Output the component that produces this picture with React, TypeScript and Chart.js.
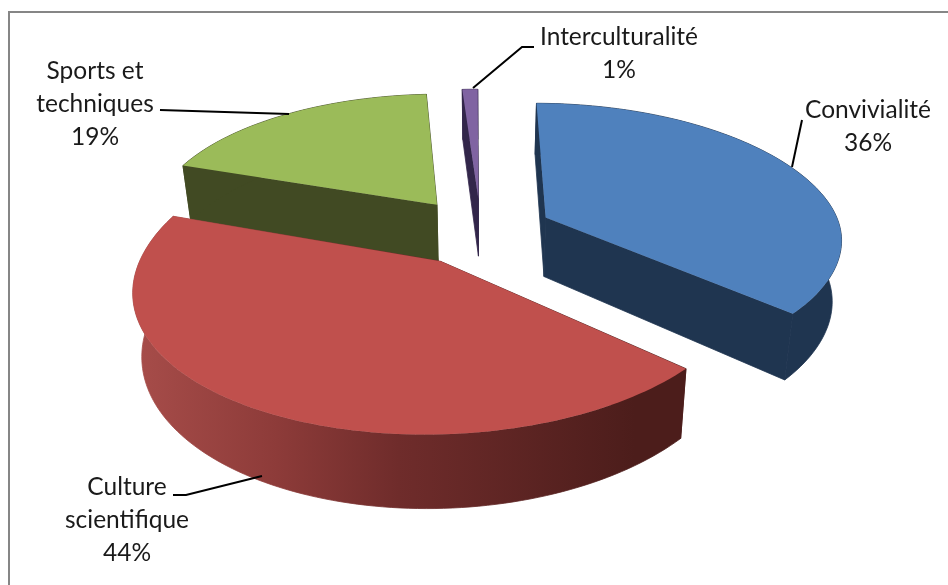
import React, { useEffect, useRef } from "react";
import { Chart, registerables } from "chart.js";

Chart.register(...registerables);

const categories = ["Convivialité", "Culture scientifique", "Sports et techniques", "Interculturalité"];
const values = [36, 44, 19, 1];
const topColors = ["#4f81bd", "#c0504d", "#9bbb59", "#8064a2"];
const wallColors = ["#1f3550", "#4c1d1b", "#414a23", "#32264a"];
const labelLines = [
  ["Convivialité", "36%"],
  ["Culture", "scientifique", "44%"],
  ["Sports et", "techniques", "19%"],
  ["Interculturalité", "1%"],
];

const VIEW = { cx: 482, cy: 231, A: 293, B: 135.5, S: -19, T: -5, k: 0.157, D: 60, shrink: 0.026 };
const LABEL_POS = [
  { x: 868, y: 110 },
  { x: 127, y: 487 },
  { x: 95, y: 71 },
  { x: 619, y: 37 },
];
const LEADERS = [
  [[792, 167], [802, 120]],
  [[262, 476], [186, 495], [173, 495]],
  [[289, 114], [160, 110]],
  [[473, 88], [522, 47], [534, 47]],
];
const LINE_H = 33;

function project(X: number, Y: number, z: number) {
  const { cx, cy, A, B, S, T, k, D, shrink } = VIEW;
  const w = 1 + k * Y;
  const f = 1 - shrink * z;
  const lean = (Y + Math.sqrt(Y * Y + 0.06)) / 2;
  return {
    x: cx + ((A * X + S * lean) / w) * f,
    y: cy + T * X - (B * Y) / w + (z * D) / w,
  };
}

function slicePoints(el: any) {
  const off = el.options.offset / el.outerRadius;
  const mid = (el.startAngle + el.endAngle) / 2;
  const ox = Math.cos(mid) * off;
  const oy = -Math.sin(mid) * off;
  const steps = Math.max(4, Math.ceil((el.endAngle - el.startAngle) * 40));
  const rim: [number, number][] = [];
  for (let i = 0; i <= steps; i++) {
    const t = el.startAngle + ((el.endAngle - el.startAngle) * i) / steps;
    rim.push([ox + Math.cos(t), oy - Math.sin(t)]);
  }
  return { apex: [ox, oy] as [number, number], rim };
}

function fillPoly(ctx: CanvasRenderingContext2D, pts: { x: number; y: number }[], fill: any, seal = false) {
  ctx.beginPath();
  pts.forEach((p, i) => (i ? ctx.lineTo(p.x, p.y) : ctx.moveTo(p.x, p.y)));
  ctx.closePath();
  ctx.fillStyle = fill;
  ctx.fill();
  if (seal) {
    ctx.strokeStyle = fill;
    ctx.lineWidth = 0.8;
    ctx.stroke();
  }
}

const pie3d = {
  id: "pie3d",
  beforeDraw(chart: any) {
    const ctx = chart.ctx;
    ctx.save();
    ctx.fillStyle = "#ffffff";
    ctx.fillRect(0, 0, chart.width, chart.height);
    ctx.strokeStyle = "#868686";
    ctx.lineWidth = 2;
    ctx.beginPath();
    ctx.moveTo(9, chart.height);
    ctx.lineTo(9, 12);
    ctx.lineTo(chart.width, 12);
    ctx.stroke();
    ctx.restore();
  },
  beforeDatasetDraw(chart: any) {
    const ctx: CanvasRenderingContext2D = chart.ctx;
    const arcs = chart.getDatasetMeta(0).data;
    const order = [2, 3, 0, 1];
    const redWall = ctx.createLinearGradient(140, 0, 690, 0);
    redWall.addColorStop(0, "#a64c49");
    redWall.addColorStop(0.25, "#8d3b39");
    redWall.addColorStop(0.47, "#6f2c2b");
    redWall.addColorStop(0.9, "#4c1d1b");
    ctx.save();
    order.forEach((i) => {
      const { apex, rim } = slicePoints(arcs[i]);
      const top = rim.map(([x, y]) => project(x, y, 0));
      const bot = rim.map(([x, y]) => project(x, y, 1));
      const a0 = project(apex[0], apex[1], 0);
      const a1 = project(apex[0], apex[1], 1);
      const wall = i === 1 ? redWall : wallColors[i];
      fillPoly(ctx, [a0, top[0], bot[0], a1], wall, true);
      fillPoly(ctx, [a0, top[top.length - 1], bot[bot.length - 1], a1], wall, true);
      fillPoly(ctx, [...top, ...bot.slice().reverse()], wall, true);
      fillPoly(ctx, [a0, ...top], topColors[i]);
    });
    ctx.restore();
    return false;
  },
  afterDraw(chart: any) {
    const ctx: CanvasRenderingContext2D = chart.ctx;
    ctx.save();
    ctx.strokeStyle = "#000000";
    ctx.lineWidth = 2;
    LEADERS.forEach((line) => {
      ctx.beginPath();
      line.forEach(([x, y], i) => (i ? ctx.lineTo(x, y) : ctx.moveTo(x, y)));
      ctx.stroke();
    });
    ctx.fillStyle = "#1a1a1a";
    ctx.font = "24.5px Lato";
    ctx.textAlign = "center";
    ctx.textBaseline = "middle";
    labelLines.forEach((lines, i) => {
      lines.forEach((t, j) => ctx.fillText(t, LABEL_POS[i].x, LABEL_POS[i].y + j * LINE_H));
    });
    ctx.restore();
  },
};

export default function App() {
  const ref = useRef<HTMLCanvasElement>(null);
  useEffect(() => {
    document.body.style.margin = "0";
    const chart = new Chart(ref.current!, {
      type: "pie",
      data: {
        labels: categories,
        datasets: [{ data: values, backgroundColor: topColors, offset: 60, borderWidth: 0 }],
      },
      options: {
        responsive: false,
        animation: false,
        radius: 240,
        rotation: 3.3,
        layout: { padding: 0 },
        plugins: { legend: { display: false }, tooltip: { enabled: false } },
      } as any,
      plugins: [pie3d as any],
    });
    return () => chart.destroy();
  }, []);
  return <canvas ref={ref} width={948} height={585} style={{ display: "block" }} />;
}
